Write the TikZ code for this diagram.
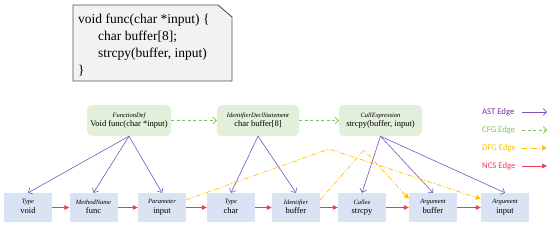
\documentclass[tikz,border=0pt]{standalone}
\usepackage{fontspec}
\setmainfont{Liberation Serif}
\newfontfamily\legendfont{Carlito}
\usetikzlibrary{arrows.meta}
\definecolor{astc}{RGB}{128,80,190}
\definecolor{asttext}{RGB}{112,48,160}
\definecolor{cfgc}{RGB}{130,195,80}
\definecolor{dfgc}{RGB}{255,192,0}
\definecolor{ncsc}{RGB}{235,60,85}
\definecolor{greenfill}{RGB}{226,239,218}
\definecolor{bluefill}{RGB}{218,227,243}
\definecolor{codefill}{RGB}{242,242,242}
\definecolor{codeborder}{RGB}{68,84,106}
\tikzset{
  topbox/.style={fill=greenfill, rounded corners=5pt, minimum width=#1, minimum height=31pt, inner sep=0pt, align=center, font=\fontsize{8.5}{9.5}\selectfont},
  botbox/.style={fill=bluefill, minimum width=48pt, minimum height=29pt, inner sep=0pt, align=center, font=\fontsize{8.5}{10}\selectfont},
  astedge/.style={draw=astc, line width=0.6pt, -{Straight Barb[length=3.5pt,width=7pt]}},
  cfgedge/.style={draw=cfgc, line width=0.7pt, dash pattern=on 3pt off 2.5pt, -{Straight Barb[length=3.5pt,width=7pt]}},
  dfgedge/.style={draw=dfgc, line width=0.7pt, dash pattern=on 5pt off 2pt on 1.2pt off 2pt, -{Triangle[length=5pt,width=5pt]}},
  ncsedge/.style={draw=ncsc, line width=0.7pt, -{Triangle[length=5pt,width=4.5pt]}},
  codeline/.style={anchor=base west, inner sep=0pt, font=\fontsize{13.5}{17}\selectfont},
  legtext/.style={anchor=west, inner sep=0pt, font=\legendfont\fontsize{8.7}{10}\selectfont}
}
\newcommand{\twoline}[2]{{\fontsize{6.5}{7}\selectfont\itshape\vphantom{Ty}#1}\\[-0.5pt] \vphantom{(p}#2}
\begin{document}
\begin{tikzpicture}[x=1pt, y=-1pt]
\useasboundingbox (0,0) rectangle (550,227);
% code box
\draw[codeborder, fill=codefill, line width=0.9pt] (73,5) -- (218,5) -- (232,17) -- (232,81) -- (73,81) -- cycle;
\node[codeline] (c1) at (78,24) {void func(char *input) \{};
\node[codeline] (c2) at (98,41) {char buffer[8];};
\node[codeline] (c3) at (98,58) {strcpy(buffer, input)};
\node[codeline] (c4) at (78,75) {\}};
% top nodes
\node[topbox=84pt] (fd) at (129,120.5) {\twoline{FunctionDef}{Void func(char *input)}};
\node[topbox=82pt] (ids) at (258,120.5) {\twoline{IdentifierDeclStatement}{char buffer[8]}};
\node[topbox=83pt] (ce) at (380.5,120.5) {\twoline{CallExpression}{strcpy(buffer, input)}};
% bottom nodes
\node[botbox] (b1) at (28,207.5) {\twoline{Type}{void}};
\node[botbox] (b2) at (93.5,207.5) {\twoline{MethodName}{func}};
\node[botbox] (b3) at (162,207.5) {\twoline{Parameter}{input}};
\node[botbox] (b4) at (231,207.5) {\twoline{Type}{char}};
\node[botbox] (b5) at (296,207.5) {\twoline{Identifier}{buffer}};
\node[botbox] (b6) at (362,207.5) {\twoline{Callee}{strcpy}};
\node[botbox] (b7) at (433,207.5) {\twoline{Argument}{buffer}};
\node[botbox] (b8) at (505,207.5) {\twoline{Argument}{input}};
% CFG
\draw[cfgedge] (fd.east) -- (ids.west);
\draw[cfgedge] (ids.east) -- (ce.west);
% AST
\draw[astedge] (fd.south) -- (b1.north);
\draw[astedge] (fd.south) -- (b2.north);
\draw[astedge] (fd.south) -- (b3.north);
\draw[astedge] (ids.south) -- (b4.north);
\draw[astedge] (ids.south) -- (b5.north);
\draw[astedge] (ce.south) -- (b6.north);
\draw[astedge] (ce.south) -- (b7.north);
\draw[astedge] (ce.south) -- (b8.north);
% NCS
\draw[ncsedge] (b1) -- (b2);
\draw[ncsedge] (b2) -- (b3);
\draw[ncsedge] (b3) -- (b4);
\draw[ncsedge] (b4) -- (b5);
\draw[ncsedge] (b5) -- (b6);
\draw[ncsedge] (b6) -- (b7);
\draw[ncsedge] (b7) -- (b8);
% DFG
\coordinate (p1) at (329,149);
\coordinate (p2) at (364,150);
\draw[dfgedge] ([yshift=-7pt]b3.north east) -- (p1) -- ([yshift=-6pt]b8.north west);
\draw[dfgedge] ([yshift=-7pt]b5.north east) -- (p2) -- ([yshift=-6pt]b7.north west);
% legend
\node[legtext, text=asttext] (la) at (482,112) {AST Edge};
\node[legtext, text=cfgc] (lc) at (482,130) {CFG Edge};
\node[legtext, text=dfgc] (ld) at (482,148) {DFG Edge};
\node[legtext, text=ncsc] (ln) at (482,166) {NCS Edge};
\coordinate (la1) at (522,112); \coordinate (la2) at (547,112);
\coordinate (lc1) at (522,130); \coordinate (lc2) at (547,130);
\coordinate (ld1) at (522,148); \coordinate (ld2) at (547,148);
\coordinate (ln1) at (522,166); \coordinate (ln2) at (547,166);
\draw[astedge] (la1) -- (la2);
\draw[cfgedge] (lc1) -- (lc2);
\draw[dfgedge] (ld1) -- (ld2);
\draw[ncsedge] (ln1) -- (ln2);
\end{tikzpicture}
\end{document}
